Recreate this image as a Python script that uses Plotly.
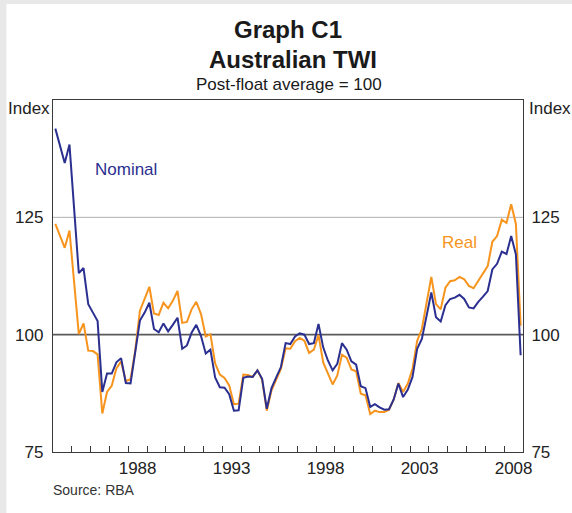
import pandas as pd
import plotly.graph_objects as go

# ---- data (quarterly, 1984Q1 - 2008Q4) ----
first_quarter = "1984Q1"
last_quarter = "2008Q4"

nominal = [143.9, 140.3, 136.6, 140.5, 127.0, 113.1, 114.2, 106.5, 104.7, 102.9,
           87.8, 91.7, 91.7, 94.1, 95.0, 89.7, 89.6, 96.6, 103.0, 104.7,
           106.8, 101.2, 100.5, 102.4, 100.7, 102.1, 103.6, 97.0, 97.7, 100.4,
           102.1, 99.7, 96.0, 96.8, 90.9, 88.8, 88.7, 87.3, 83.8, 83.9,
           90.8, 91.1, 91.0, 92.4, 90.6, 84.2, 88.6, 90.9, 93.1, 98.2,
           98.0, 99.6, 100.3, 100.0, 98.0, 98.2, 102.3, 97.3, 94.5, 92.4,
           93.8, 98.2, 96.8, 94.3, 93.6, 89.0, 88.6, 84.6, 85.2, 84.5,
           84.0, 84.1, 86.2, 89.6, 86.7, 88.3, 91.0, 97.0, 99.1, 104.0,
           109.0, 103.7, 102.8, 106.3, 107.6, 107.9, 108.5, 107.6, 105.8, 105.6,
           107.0, 108.1, 109.3, 113.9, 115.1, 117.7, 117.2, 121.0, 117.1, 95.6]

real = [123.6, 121.0, 118.5, 122.2, 111.2, 100.1, 102.4, 96.6, 96.5, 95.8,
        83.2, 87.8, 89.1, 92.8, 94.3, 90.1, 90.5, 96.6, 105.1, 107.6,
        110.2, 104.5, 104.2, 106.8, 105.6, 107.2, 109.3, 102.5, 102.7, 105.4,
        107.0, 104.4, 99.6, 100.1, 93.9, 91.5, 90.8, 89.2, 85.2, 85.3,
        91.5, 91.4, 91.0, 92.4, 90.4, 83.8, 88.1, 90.4, 92.7, 97.1,
        97.0, 98.6, 99.3, 98.7, 96.1, 96.8, 99.9, 94.1, 91.7, 89.4,
        91.3, 95.7, 95.1, 92.6, 92.2, 87.4, 87.1, 83.1, 83.8, 83.5,
        83.5, 84.0, 86.2, 89.7, 87.8, 89.6, 92.7, 98.7, 101.2, 106.5,
        112.3, 106.5, 105.4, 110.0, 111.4, 111.6, 112.3, 111.8, 110.4, 109.9,
        111.4, 113.0, 114.6, 119.8, 121.0, 124.5, 123.8, 127.8, 123.6, 101.9]

label_years = [1988, 1993, 1998, 2003, 2008]
minor_tick_years = list(range(1985, 2009))
y_ticks = [75, 100, 125]
y_range = [75, 150]
grid_level = 125
base_level = 100

# ---- styling ----
BLUE = "#2b3090"
ORANGE = "#f7941d"
AXIS = "#3a3a3a"
FONT = "Liberation Sans, Arial, sans-serif"

periods = pd.period_range(first_quarter, last_quarter, freq="Q")
dates = [p.start_time + (p.end_time - p.start_time) / 2 for p in periods]

fig = go.Figure()
fig.add_trace(go.Scatter(x=dates, y=real, mode="lines", name="Real",
                         line=dict(color=ORANGE, width=2), hoverinfo="skip"))
fig.add_trace(go.Scatter(x=dates, y=nominal, mode="lines", name="Nominal",
                         line=dict(color=BLUE, width=2), hoverinfo="skip"))
# invisible trace to anchor the right-hand axis
fig.add_trace(go.Scatter(x=dates, y=nominal, mode="lines", yaxis="y2",
                         line=dict(color="rgba(0,0,0,0)", width=0),
                         hoverinfo="skip", showlegend=False))

fig.update_layout(
    width=572, height=513,
    margin=dict(l=53, r=45, t=100, b=61),
    paper_bgcolor="#e8e8e8",
    plot_bgcolor="white",
    showlegend=False,
    font=dict(family=FONT, size=17, color="#222222"),
    xaxis=dict(
        type="date",
        range=["1984-01-01", "2009-01-01"],
        tickmode="array",
        tickvals=[f"{y}-07-02" for y in label_years],
        ticktext=[str(y) for y in label_years],
        ticks="",
        showgrid=False,
        zeroline=False,
        showline=True, linecolor=AXIS, linewidth=1.3, mirror=True,
        tickfont=dict(size=17, color="#222222"),
        minor=dict(tickmode="array",
                   tickvals=[f"{y}-01-01" for y in minor_tick_years],
                   ticks="inside", ticklen=6, tickwidth=1, tickcolor=AXIS,
                   showgrid=False),
        fixedrange=True,
    ),
    yaxis=dict(
        range=y_range,
        tickmode="array", tickvals=y_ticks,
        ticks="outside", ticklen=5, tickcolor="rgba(0,0,0,0)",
        showgrid=False,
        zeroline=False,
        showline=True, linecolor=AXIS, linewidth=1.3, mirror=True,
        tickfont=dict(size=17, color="#222222"),
        fixedrange=True,
    ),
    yaxis2=dict(
        range=y_range, overlaying="y", side="right",
        tickmode="array", tickvals=y_ticks,
        ticks="outside", ticklen=4, tickcolor="rgba(0,0,0,0)",
        showgrid=False, zeroline=False, showline=False,
        tickfont=dict(size=17, color="#222222"),
        fixedrange=True,
    ),
)

# white panel over grey frame
fig.add_shape(type="rect", xref="paper", yref="paper",
              x0=(6 - 53) / 474, x1=(580 - 53) / 474,
              y0=(452 - 520) / 352, y1=(452 - 4) / 352,
              fillcolor="white", line=dict(width=0), layer="below")

# horizontal reference lines
fig.add_shape(type="line", xref="paper", yref="y",
              x0=0, x1=1, y0=grid_level, y1=grid_level,
              line=dict(color="#b0b0b0", width=1), layer="between")
fig.add_shape(type="line", xref="paper", yref="y",
              x0=0, x1=1, y0=base_level, y1=base_level,
              line=dict(color="#5a5a5a", width=1.8), layer="between")

# titles
fig.add_annotation(text="<b>Graph C1</b>", xref="paper", yref="paper",
                   x=0.5, y=(452 - 29) / 352, xanchor="center", yanchor="middle",
                   showarrow=False, font=dict(size=24, color="#1a1a1a"))
fig.add_annotation(text="<b>Australian TWI</b>", xref="paper", yref="paper",
                   x=0.51, y=(452 - 59) / 352, xanchor="center", yanchor="middle",
                   showarrow=False, font=dict(size=24, color="#1a1a1a"))
fig.add_annotation(text="Post-float average = 100", xref="paper", yref="paper",
                   x=0.503, y=(452 - 84) / 352, xanchor="center", yanchor="middle",
                   showarrow=False, font=dict(size=17, color="#1a1a1a"))

# axis unit labels
fig.add_annotation(text="Index", xref="paper", yref="paper",
                   x=(6 - 53) / 474, y=(452 - 109) / 352, xanchor="left", yanchor="middle",
                   showarrow=False, font=dict(size=17))
fig.add_annotation(text="Index", xref="paper", yref="paper",
                   x=(531 - 53) / 474, y=(452 - 109) / 352, xanchor="left", yanchor="middle",
                   showarrow=False, font=dict(size=17))

# series labels
fig.add_annotation(text="Nominal", x="1986-02-20", y=135.2, xanchor="left", yanchor="middle",
                   showarrow=False, font=dict(size=17, color=BLUE))
fig.add_annotation(text="Real", x="2004-08-01", y=119.6, xanchor="left", yanchor="middle",
                   showarrow=False, font=dict(size=17, color=ORANGE))

# source
fig.add_annotation(text="Source: RBA", xref="paper", yref="paper",
                   x=(51 - 53) / 474, y=(452 - 490) / 352, xanchor="left", yanchor="middle",
                   showarrow=False, font=dict(size=14, color="#333333"))

fig.write_html(
    "out.html",
    config={"displayModeBar": False},
    post_script="document.body.style.margin='0';document.body.style.overflow='hidden';",
)
